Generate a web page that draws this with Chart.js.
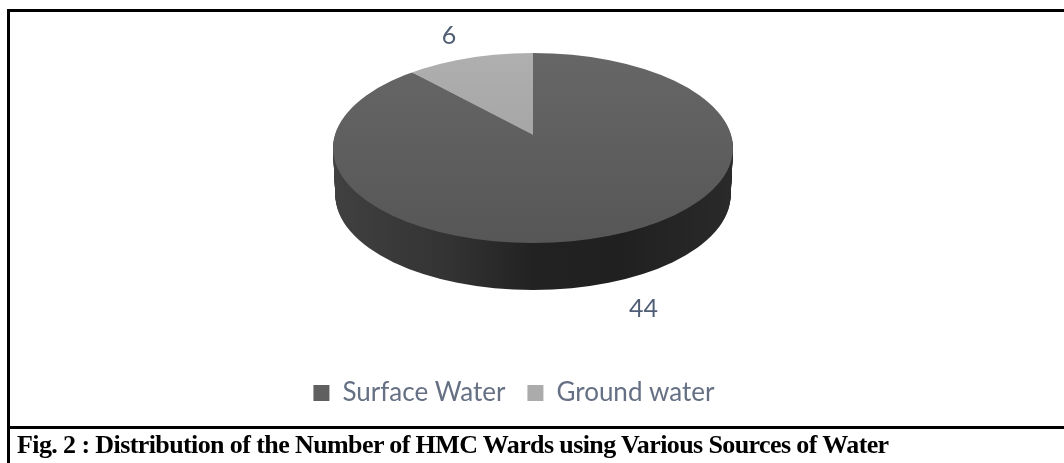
<!DOCTYPE html>
<html>
<head>
<meta charset="utf-8">
<title>Fig. 2</title>
<script src="https://cdn.jsdelivr.net/npm/chart.js@4"></script>
<style>
  html, body { margin: 0; padding: 0; background: #fff; }
  #wrap { position: relative; width: 1064px; height: 463px; overflow: hidden; }
  #pie { position: absolute; left: 0; top: 0; }
  .rule { position: absolute; background: #000; }
  #caption {
    position: absolute; left: 17px; top: 430px; white-space: nowrap;
    font: bold 26px "Liberation Serif", serif; color: #000; letter-spacing: -0.6px;
  }
</style>
</head>
<body>
<div id="wrap">
  <canvas id="pie" width="1064" height="463"></canvas>
  <div class="rule" style="left:7px;top:9px;width:1057px;height:3px"></div>
  <div class="rule" style="left:7px;top:426px;width:1057px;height:3px"></div>
  <div class="rule" style="left:7px;top:9px;width:3px;height:454px"></div>
  <div id="caption">Fig. 2 : Distribution of the Number of HMC Wards using Various Sources of Water</div>
</div>
<script>
const categories = ['Surface Water', 'Ground water'];
const wards = [44, 6];
const sliceColors = ['#606060', '#ababab'];

// apex of the slices and the rim ellipse, perspective puts them apart
const apex = { x: 533, y: 135, rx: 260, ry: 126 };
const rim = { x: 533, y: 148, rx: 200, ry: 95 };
const depth = 47;
const labelReach = [[300, 187], [228, 107]];

function paintArc(ctx, arc, fill) {
  const saved = arc.options;
  arc.options = Object.assign({}, saved, { backgroundColor: fill, borderWidth: 0 });
  arc.draw(ctx);
  arc.options = saved;
}

function toApex(ctx, arc, grow) {
  ctx.translate(apex.x, apex.y);
  ctx.scale(grow * apex.rx / arc.outerRadius, grow * apex.ry / arc.outerRadius);
  ctx.translate(-arc.x, -arc.y);
}

const tiltedPie = {
  id: 'tiltedPie',
  beforeDatasetsDraw(chart) {
    const ctx = chart.ctx;
    const arcs = chart.getDatasetMeta(0).data;
    const first = arcs[0];
    const R = first.outerRadius;

    // side wall, drawn larger so the clip alone sets its edge
    const wall = ctx.createLinearGradient(first.x - R, 0, first.x + R, 0);
    wall.addColorStop(0.31, '#404040');
    wall.addColorStop(0.42, '#333333');
    wall.addColorStop(0.5, '#222222');
    wall.addColorStop(0.584, '#202020');
    wall.addColorStop(0.692, '#2a2a2a');
    for (let d = depth; d > 0; d--) {
      ctx.save();
      ctx.beginPath();
      ctx.ellipse(rim.x, rim.y + d, rim.rx - d * 0.05, rim.ry, 0, 0, Math.PI * 2);
      ctx.clip();
      toApex(ctx, first, 2);
      paintArc(ctx, first, wall);
      ctx.restore();
    }

    // top face
    const dark = ctx.createLinearGradient(0, first.y - R, 0, first.y + R);
    dark.addColorStop(0, '#6a6a6a');
    dark.addColorStop(1, '#555555');
    const light = ctx.createLinearGradient(0, first.y - R, 0, first.y);
    light.addColorStop(0, '#b4b4b4');
    light.addColorStop(1, '#a6a6a6');
    const fills = [dark, light];
    ctx.save();
    ctx.beginPath();
    ctx.ellipse(rim.x, rim.y, rim.rx, rim.ry, 0, 0, Math.PI * 2);
    ctx.clip();
    toApex(ctx, first, 1);
    arcs.forEach((arc, i) => paintArc(ctx, arc, fills[i]));
    ctx.restore();

    // value labels
    ctx.save();
    ctx.font = '25px Lato';
    ctx.fillStyle = '#4f5d75';
    ctx.textAlign = 'center';
    ctx.textBaseline = 'middle';
    arcs.forEach((arc, i) => {
      const mid = (arc.startAngle + arc.endAngle) / 2;
      ctx.fillText(String(wards[i]),
        apex.x + Math.cos(mid) * labelReach[i][0],
        apex.y + Math.sin(mid) * labelReach[i][1]);
    });
    ctx.restore();
    return false;
  },
};

new Chart(document.getElementById('pie'), {
  type: 'pie',
  data: {
    labels: categories,
    datasets: [{ data: wards, backgroundColor: sliceColors, borderWidth: 0 }],
  },
  options: {
    responsive: false,
    animation: false,
    layout: { padding: { bottom: 47, right: 36 } },
    plugins: {
      tooltip: { enabled: false },
      legend: {
        position: 'bottom',
        onClick: null,
        labels: {
          boxWidth: 16,
          boxHeight: 16,
          padding: 22,
          color: '#667084',
          font: { family: 'Lato', size: 26 },
        },
      },
    },
  },
  plugins: [tiltedPie],
});
</script>
</body>
</html>
